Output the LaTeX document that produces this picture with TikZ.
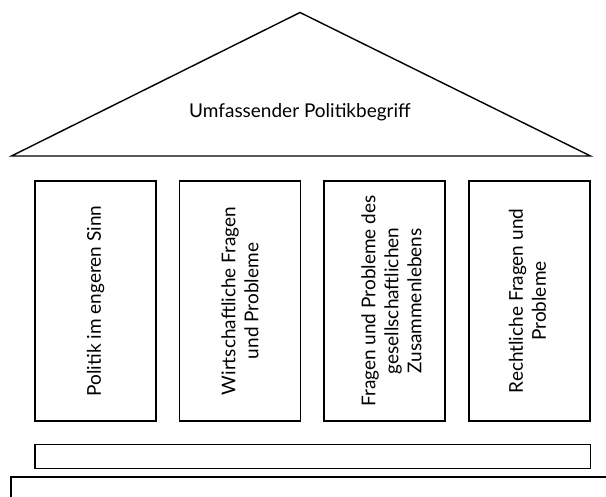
\documentclass[tikz,border=0pt]{standalone}
\usepackage{fontspec}
\setmainfont{Lato}
\begin{document}
\begin{tikzpicture}[x=1pt,y=-1pt,
  outl/.style={draw=black,line width=1.4pt},
  pillar/.style={outl,minimum width=121pt,minimum height=240pt,inner sep=0pt},
  ptext/.style={rotate=90,align=center,inner sep=0pt,font=\fontsize{19}{23}\selectfont},
  lbl/.style={font=\fontsize{19}{23}\selectfont}]
\useasboundingbox (0,0) rectangle (606,497);
\coordinate (apex) at (300,12.5);
\coordinate (bl) at (11.5,156);
\coordinate (br) at (590.5,156);
\draw[outl,line join=miter] (bl) -- (apex) -- (br) -- cycle;
\node[lbl] (roof) at (300,112) {Umfassender Politikbegriff};
\node[pillar] (p1) at (95.5,301) {};
\node[pillar] (p2) at (240,301) {};
\node[pillar] (p3) at (384.5,301) {};
\node[pillar] (p4) at (529.5,301) {};
\node[ptext] (t1) at (p1.center) {Politik im engeren Sinn};
\node[ptext] (t2) at (p2.center) {Wirtschaftliche Fragen\\und Probleme};
\node[ptext] (t3) at ([xshift=7pt]p3.center) {Fragen und Probleme des\\gesellschaftlichen\\Zusammenlebens};
\node[ptext] (t4) at ([xshift=-2pt]p4.center) {Rechtliche Fragen und\\Probleme};
\draw[outl] (35,444.5) rectangle (590.5,468.5);
\begin{scope}
\clip (0,0) rectangle (606,497);
\draw[outl] (11,510) -- (11,477) -- (620,477);
\end{scope}
\end{tikzpicture}
\end{document}
